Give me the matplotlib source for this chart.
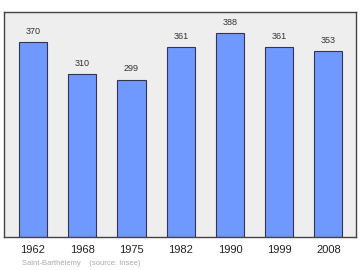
import matplotlib
matplotlib.use("Agg")
import matplotlib.pyplot as plt

plt.rcParams["font.family"] = ["Liberation Sans", "DejaVu Sans"]

years = ["1962", "1968", "1975", "1982", "1990", "1999", "2008"]
population = [370, 310, 299, 361, 388, 361, 353]

fig = plt.figure(figsize=(3.6, 2.7), dpi=100)
ax = fig.add_axes([0.011, 0.122, 0.978, 0.834])
ax.set_facecolor("#eeeeee")

x = range(len(years))
ax.bar(x, population, width=0.57, color="#7099ff", edgecolor="#333355", linewidth=0.8)
for xi, v in zip(x, population):
    ax.text(xi, v + 12, str(v), ha="center", va="bottom", fontsize=6.5, color="#333333")

ax.set_xlim(-0.59, 6.56)
ax.set_ylim(0, 428)
ax.set_yticks([])
ax.set_xticks(list(x))
ax.set_xticklabels(years, fontsize=8, color="#222222")
ax.tick_params(axis="x", length=0, pad=6)
for s in ax.spines.values():
    s.set_color("#444444")
    s.set_linewidth(1.0)

fig.text(0.06, 0.02, "Saint-Barthélemy    (source: Insee)", fontsize=5.5, color="#aaaaaa")

fig.savefig("out.png", dpi=100, facecolor="white")
